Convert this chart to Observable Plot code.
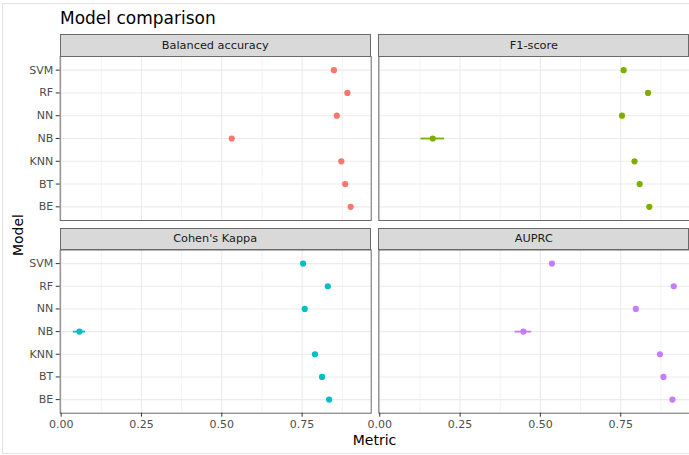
<!DOCTYPE html>
<html>
<head>
<meta charset="utf-8">
<script src="https://cdn.jsdelivr.net/npm/d3@7"></script>
<script src="https://cdn.jsdelivr.net/npm/@observablehq/plot@0.6"></script>
<style>
  html, body { margin: 0; padding: 0; background: #fff; }
  #wrap { position: relative; width: 689px; height: 455px; overflow: hidden; background: #fff; font-family: "DejaVu Sans", sans-serif; }
  #wrap svg { position: absolute; left: 0; top: 0; pointer-events: none; }
  .strip { position: absolute; box-sizing: border-box; background: #d9d9d9; border: 1px solid #6a6a6a; color: #1a1a1a; font-size: 11.3px; text-align: center; }
  .txt { position: absolute; white-space: nowrap; color: #000; }
  #outer { position: absolute; left: 2px; top: 3px; width: 700px; height: 451px; box-sizing: border-box; border: 1.5px solid #e3e3e3; }
</style>
</head>
<body>
<div id="wrap"><div id="outer"></div></div>
<script>
// ---- data ----
const models = ["SVM", "RF", "NN", "NB", "KNN", "BT", "BE"];
const metrics = ["Balanced accuracy", "F1-score", "Cohen's Kappa", "AUPRC"];
const balancedAccuracy = [0.849, 0.891, 0.858, 0.531, 0.872, 0.884, 0.901];
const f1Score          = [0.759, 0.835, 0.754, 0.165, 0.793, 0.809, 0.839];
const cohensKappa      = [0.753, 0.830, 0.758, 0.057, 0.790, 0.812, 0.834];
const auprc            = [0.536, 0.915, 0.797, 0.447, 0.872, 0.883, 0.911];
const balancedAccuracyErr = [0.004, 0.004, 0.004, 0.004, 0.004, 0.004, 0.004];
const f1ScoreErr          = [0.004, 0.004, 0.004, 0.037, 0.005, 0.004, 0.004];
const cohensKappaErr      = [0.004, 0.004, 0.004, 0.019, 0.005, 0.004, 0.004];
const auprcErr            = [0.004, 0.004, 0.004, 0.026, 0.007, 0.004, 0.004];
const metricColors = ["#F8766D", "#7CAE00", "#00BFC4", "#C77CFF"];
const xTicks = [0, 0.25, 0.5, 0.75];
const xMinor = [0.125, 0.375, 0.625, 0.875];
const titleText = "Model comparison";
const xTitle = "Metric";
const yTitle = "Model";

// ---- build ----
const values = [balancedAccuracy, f1Score, cohensKappa, auprc];
const errs = [balancedAccuracyErr, f1ScoreErr, cohensKappaErr, auprcErr];
const W = 689, H = 455;
const panels = [
  {l: 59.7, r: 370.7, t: 56, b: 220, st: 34},
  {l: 378.3, r: 689.3, t: 56, b: 220, st: 34},
  {l: 59.7, r: 370.7, t: 249.5, b: 412.7, st: 228.3},
  {l: 378.3, r: 689.3, t: 249.5, b: 412.7, st: 228.3}
];
const wrap = document.getElementById("wrap");

metrics.forEach((m, i) => {
  const p = panels[i];
  const data = models.map((mod, j) => ({model: mod, v: values[i][j], lo: values[i][j] - errs[i][j], hi: values[i][j] + errs[i][j]}));
  const col = metricColors[i];
  const isLeft = i % 2 === 0, isBottom = i >= 2;
  const marks = [
    Plot.ruleX(xMinor, {stroke: "#ebebeb", strokeWidth: 0.6}),
    Plot.ruleX(xTicks, {stroke: "#ebebeb", strokeWidth: 1.1}),
    Plot.ruleY(models, {y: d => d, stroke: "#ebebeb", strokeWidth: 1.1}),
    Plot.ruleY(data, {y: "model", x1: "lo", x2: "hi", stroke: col, strokeWidth: 1.8}),
    Plot.dot(data, {x: "v", y: "model", r: 3.1, fill: col, stroke: "none"}),
    Plot.frame({stroke: "#6a6a6a", strokeWidth: 1})
  ];
  if (isLeft) marks.push(Plot.axisY({tickSize: 4, tickPadding: 3, fontSize: 11, color: "#4d4d4d", label: null, stroke: "#333"}));
  if (isBottom) marks.push(Plot.axisX(xTicks, {tickSize: 4, tickPadding: 3, fontSize: 11, tickFormat: d3.format(".2f"), label: null, color: "#4d4d4d", stroke: "#333"}));
  const chart = Plot.plot({
    width: W, height: H,
    marginLeft: p.l, marginRight: W - p.r, marginTop: p.t, marginBottom: H - p.b,
    x: {domain: [-0.003, 0.965], axis: null},
    y: {type: "point", domain: models, padding: 0.6, round: false, axis: null},
    style: {fontFamily: "DejaVu Sans", background: "transparent", overflow: "visible"},
    marks
  });
  wrap.appendChild(chart);
  const s = document.createElement("div");
  s.className = "strip";
  s.style.left = p.l + "px";
  s.style.top = p.st + "px";
  s.style.width = (p.r - p.l) + "px";
  s.style.height = (p.t - p.st + 1) + "px";
  s.style.lineHeight = (p.t - p.st - 1) + "px";
  s.textContent = m;
  wrap.appendChild(s);
});

function addText(t, css) {
  const d = document.createElement("div");
  d.className = "txt";
  d.textContent = t;
  Object.assign(d.style, css);
  wrap.appendChild(d);
  return d;
}
addText(titleText, {left: "60px", top: "8px", fontSize: "17px", lineHeight: "20px"});
addText(xTitle, {left: "374.5px", top: "433px", fontSize: "14px", lineHeight: "14px", transform: "translateX(-50%)"});
addText(yTitle, {left: "17.5px", top: "234.5px", fontSize: "14px", lineHeight: "14px", transform: "translate(-50%,-50%) rotate(-90deg)"});
</script>
</body>
</html>
